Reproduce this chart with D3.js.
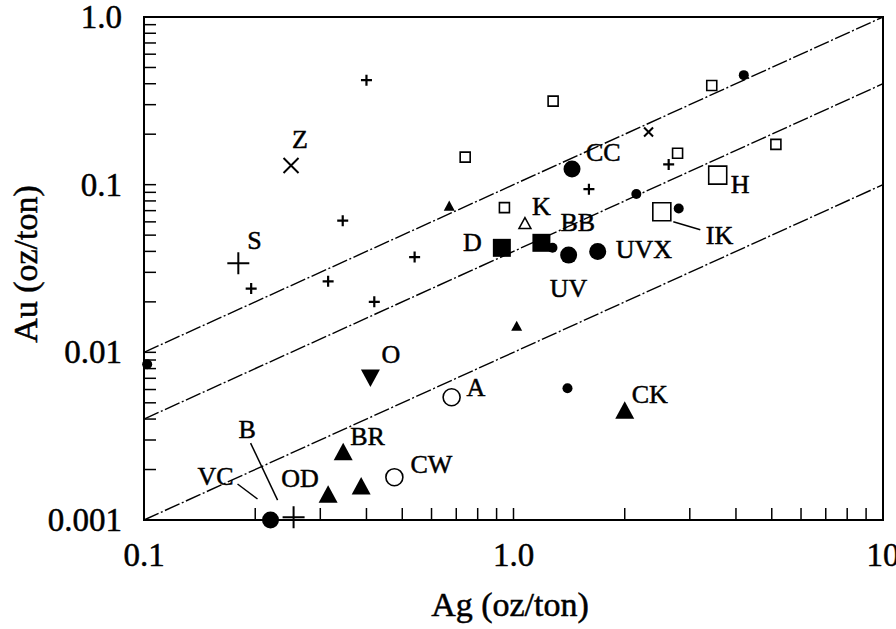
<!DOCTYPE html>
<html><head><meta charset="utf-8">
<script src="https://cdn.jsdelivr.net/npm/d3@7"></script>
<style>html,body{margin:0;padding:0;background:#fff}svg{display:block}</style>
</head><body>
<script>
// ---------------- data ----------------
const xTickValues = [0.1, 1, 10];
const xTickLabels = ["0.1", "1.0", "10"];
const yTickValues = [1, 0.1, 0.01, 0.001];
const yTickLabels = ["1.0", "0.1", "0.01", "0.001"];
const xTitle = "Ag (oz/ton)";
const yTitle = "Au (oz/ton)";
const ratioLines = [0.1, 0.04, 0.01]; // Au = ratio * Ag

const smallPlus = [[0.40,0.42],[0.345,0.061],[0.195,0.024],[0.315,0.0265],[0.54,0.037],[0.42,0.020],[1.6,0.094],[2.63,0.132]];
const largePlus = [[0.18,0.034,"S"],[0.254,0.00104,"B"]];
const smallCross = [[2.32,0.206]];
const largeCross = [[0.25,0.13,"Z"]];
const smallOpenSquare = [[0.74,0.146],[1.28,0.315],[0.945,0.073],[2.78,0.154],[3.44,0.39],[5.13,0.174]];
const largeOpenSquare = [[3.57,0.114,"H"],[2.52,0.069,"IK"]];
const largeFilledSquare = [[0.93,0.042,"D"],[1.19,0.045,"BB"]];
const smallFilledCircle = [[0.102,0.0085],[1.275,0.042],[2.15,0.088],[4.2,0.45],[2.8,0.072],[1.40,0.0061]];
const largeFilledCircle = [[1.44,0.124,"CC"],[1.41,0.038,"UV"],[1.69,0.040,"UVX"],[0.22,0.001,"VC"]];
const largeOpenCircle = [[0.68,0.0054,"A"],[0.476,0.0018,"CW"]];
const largeFilledTriangle = [[0.346,0.00256,"BR"],[0.315,0.00143,"OD"],[0.387,0.0016],[2.0,0.00453,"CK"]];
const smallFilledTriangle = [[0.67,0.075],[1.02,0.0144]];
const smallOpenTriangle = [[1.074,0.059,"K"]];
const filledDownTriangle = [[0.41,0.007,"O"]];

// ---------------- layout ----------------
const W = 896, H = 629;
const M = {left:144, right:883, top:17, bottom:520};
const labelLayout = {
  Z:[1,-18], S:[9,-14], CC:[14,-8], K:[7,-8], BB:[19,-12], D:[-20,3,"end"],
  UV:[0,42,"middle"], UVX:[18,7], H:[13,18], IK:[44,32], O:[11,-15], A:[15,-1],
  CK:[7,-7], BR:[7,-7], CW:[16,-4], OD:[-47,-7], VC:[-73,-35], B:[-55,-79]
};
const leaderLayout = {
  B:[[-43,-74],[-16,-17]],
  VC:[[-33,-36],[-13,-21]],
  IK:[[11.5,10],[38.5,18]]
};
const FONT = "'Liberation Serif','Times New Roman',serif";

const svg = d3.select("body").append("svg").attr("width",W).attr("height",H)
  .style("background","#fff");

const x = d3.scaleLog().domain([0.1,10]).range([M.left,M.right]);
const y = d3.scaleLog().domain([0.001,1]).range([M.bottom,M.top]);

// ratio lines
const lineGen = d3.line().x(d=>x(d[0])).y(d=>y(d[1]));
svg.append("g").selectAll("path").data(ratioLines).join("path")
  .attr("d", r => lineGen([[0.1,0.1*r],[10,10*r]]))
  .attr("fill","none").attr("stroke","#000").attr("stroke-width",1.4)
  .attr("stroke-dasharray","16,2.5,2,2.5");

// frame
svg.append("rect").attr("x",M.left).attr("y",M.top)
  .attr("width",M.right-M.left).attr("height",M.bottom-M.top)
  .attr("fill","none").attr("stroke","#000").attr("stroke-width",2);

// ticks
const TL = 12;
const yMinor = [];
[0.001,0.01,0.1].forEach(d=>{ for(let k=2;k<=10;k++) yMinor.push(d*k); });
svg.append("g").selectAll("line").data(yMinor.filter(v=>v<1)).join("line")
  .attr("x1",M.left).attr("x2",M.left+TL).attr("y1",d=>y(d)).attr("y2",d=>y(d))
  .attr("stroke","#000").attr("stroke-width",1.5);
const xMinor = [];
[0.1,1].forEach(d=>{ for(let k=2;k<=10;k++) xMinor.push(d*k); });
svg.append("g").selectAll("line").data(xMinor.filter(v=>v<10)).join("line")
  .attr("y1",M.bottom).attr("y2",M.bottom-TL).attr("x1",d=>x(d)).attr("x2",d=>x(d))
  .attr("stroke","#000").attr("stroke-width",1.5);

// tick labels
const TS = 0.5; // text stroke to mimic heavier print
svg.append("g").selectAll("text").data(yTickValues).join("text")
  .attr("x",M.left-22).attr("y",d=>y(d)+11).attr("text-anchor","end")
  .attr("font-family",FONT).attr("font-size",33).attr("stroke","#000").attr("stroke-width",TS)
  .text((d,i)=>yTickLabels[i]);
svg.append("g").selectAll("text").data(xTickValues).join("text")
  .attr("x",d=>x(d)).attr("y",M.bottom+46).attr("text-anchor","middle")
  .attr("font-family",FONT).attr("font-size",33).attr("stroke","#000").attr("stroke-width",TS)
  .text((d,i)=>xTickLabels[i]);

// axis titles
svg.append("text").attr("x",510).attr("y",616).attr("text-anchor","middle")
  .attr("font-family",FONT).attr("font-size",34).attr("stroke","#000").attr("stroke-width",TS)
  .text(xTitle);
svg.append("text").attr("transform","translate(37,264) rotate(-90)").attr("text-anchor","middle")
  .attr("font-family",FONT).attr("font-size",34).attr("stroke","#000").attr("stroke-width",TS)
  .text(yTitle);

// markers
const shapes = {
  plus: s => `M${-s/2},0H${s/2}M0,${-s/2}V${s/2}`,
  cross: s => `M${-s/2},${-s/2}L${s/2},${s/2}M${-s/2},${s/2}L${s/2},${-s/2}`,
  square: s => `M${-s/2},${-s/2}h${s}v${s}h${-s}Z`,
  circle: s => { const p=d3.path(); p.arc(0,0,s/2,0,2*Math.PI); p.closePath(); return p.toString(); },
  triUp: s => `M0,${-s*0.46}L${s/2},${s*0.46}L${-s/2},${s*0.46}Z`,
  triDown: s => `M0,${s*0.46}L${s/2},${-s*0.46}L${-s/2},${-s*0.46}Z`
};
const series = [
  {data:smallPlus, shape:"plus", size:11, fill:"none", sw:2.2},
  {data:largePlus, shape:"plus", size:22, fill:"none", sw:2},
  {data:smallCross, shape:"cross", size:9, fill:"none", sw:2},
  {data:largeCross, shape:"cross", size:15, fill:"none", sw:2},
  {data:smallOpenSquare, shape:"square", size:10, fill:"#fff", sw:1.6},
  {data:largeOpenSquare, shape:"square", size:18, fill:"#fff", sw:1.6},
  {data:largeFilledSquare, shape:"square", size:18, fill:"#000", sw:0},
  {data:smallFilledCircle, shape:"circle", size:10, fill:"#000", sw:0},
  {data:largeFilledCircle, shape:"circle", size:17, fill:"#000", sw:0},
  {data:largeOpenCircle, shape:"circle", size:17, fill:"#fff", sw:1.6},
  {data:largeFilledTriangle, shape:"triUp", size:19, fill:"#000", sw:0},
  {data:smallFilledTriangle, shape:"triUp", size:11, fill:"#000", sw:0},
  {data:smallOpenTriangle, shape:"triUp", size:12, fill:"#fff", sw:1.5},
  {data:filledDownTriangle, shape:"triDown", size:19, fill:"#000", sw:0}
];
const mg = svg.append("g");
series.forEach(s=>{
  mg.append("g").selectAll("path").data(s.data).join("path")
    .attr("transform",d=>`translate(${x(d[0])},${y(d[1])})`)
    .attr("d",shapes[s.shape](s.size))
    .attr("fill",s.fill).attr("stroke",s.sw>0?"#000":"none").attr("stroke-width",s.sw);
});

// labels & leaders
const named = [];
series.forEach(s=>s.data.forEach(d=>{ if(d[2]) named.push(d); }));
const lg = svg.append("g");
named.forEach(d=>{
  const px = x(d[0]), py = y(d[1]);
  const L = labelLayout[d[2]];
  lg.append("text").attr("x",px+L[0]).attr("y",py+L[1]).attr("text-anchor",L[2]||"start")
    .attr("font-family",FONT).attr("font-size",26).attr("stroke","#000").attr("stroke-width",TS)
    .text(d[2]);
  const ld = leaderLayout[d[2]];
  if(ld){
    lg.append("line").attr("x1",px+ld[0][0]).attr("y1",py+ld[0][1])
      .attr("x2",px+ld[1][0]).attr("y2",py+ld[1][1])
      .attr("stroke","#000").attr("stroke-width",1.5);
  }
});
</script>
</body></html>
